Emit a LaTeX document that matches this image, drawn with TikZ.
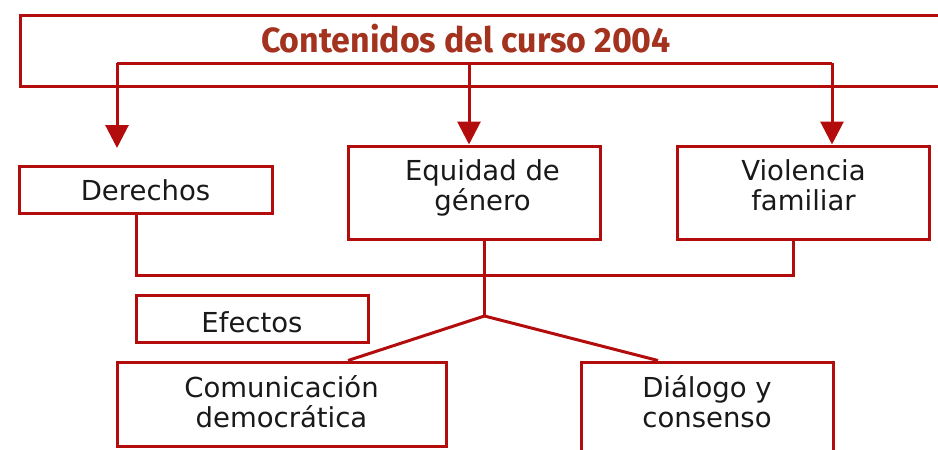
\documentclass[tikz,border=0pt]{standalone}
\usepackage{fontspec}
\usepackage{graphicx}
\usetikzlibrary{arrows.meta}
\newfontfamily\bodyfont{DejaVu Sans}
\newfontfamily\titlefont{Fira Sans}
\definecolor{linered}{RGB}{178,12,12}
\definecolor{titlered}{RGB}{163,50,30}
\tikzstyle{topic} = [rectangle, draw=linered, line width=3pt, inner sep=0pt, align=center, text=black!90, font=\bodyfont\fontsize{27.5}{30}\selectfont]
\tikzstyle{link} = [draw=linered, line width=3pt]
\tikzstyle{arrow} = [link, -{Triangle[width=23pt,length=23pt]}]

\begin{document}
\begin{tikzpicture}[x=1pt, y=-1pt, node distance=329pt]
	\path[use as bounding box, clip] (0,0) rectangle (938,450);

	\node (head) [rectangle, draw=linered, line width=3pt, minimum width=960pt, minimum height=71pt] at (500,50.5) {};
	\node (title) [anchor=base, text=titlered, font=\titlefont\bfseries\fontsize{35}{40}\selectfont] at (466,52) {\scalebox{0.97}[1]{Contenidos del curso 2004}};

	\node (derechos) [topic, minimum width=253pt, minimum height=47pt, text height=23pt] at (145.5,189.5) {Derechos};
	\node (equidad) [topic, minimum width=252pt, minimum height=93pt, text height=51pt, text depth=16pt, right of=derechos, yshift=-3pt] {\hspace*{16pt}Equidad de\\\hspace*{16pt}género};
	\node (violencia) [topic, minimum width=252pt, minimum height=93pt, text height=51pt, text depth=16pt, right of=equidad] {Violencia\\familiar};
	\node (efectos) [topic, minimum width=232pt, minimum height=47pt, text height=29pt] at (252,318.5) {Efectos};
	\node (comunicacion) [topic, minimum width=329pt, minimum height=84pt, text height=51pt, text depth=5pt] at (281.5,404) {Comunicación\\democrática};
	\node (dialogo) [topic, minimum width=252pt, minimum height=100pt, text height=51pt, text depth=21pt] at (707,412) {Diálogo y\\consenso};

	\coordinate (busL) at (117,63);
	\coordinate (busM) at (469,63);
	\coordinate (busR) at (832,63);
	\coordinate (tipL) at (117,148);
	\coordinate (fork) at (484.5,316);

	\draw [link] (busL) -- (busR);
	\draw [arrow] (busL) -- (tipL);
	\draw [arrow] (busM) -- (busM |- equidad.north);
	\draw [arrow] (busR) -- (busR |- violencia.north);

	\draw [link] ([xshift=-9.5pt]derechos.south) -- ++(0,61) -| ([xshift=-10pt]violencia.south);
	\draw [link] ([xshift=10pt]equidad.south) -- (fork);
	\draw [link] (fork) -- ([xshift=66.5pt]comunicacion.north);
	\draw [link] (fork) -- ([xshift=-49pt]dialogo.north);
\end{tikzpicture}
\end{document}
